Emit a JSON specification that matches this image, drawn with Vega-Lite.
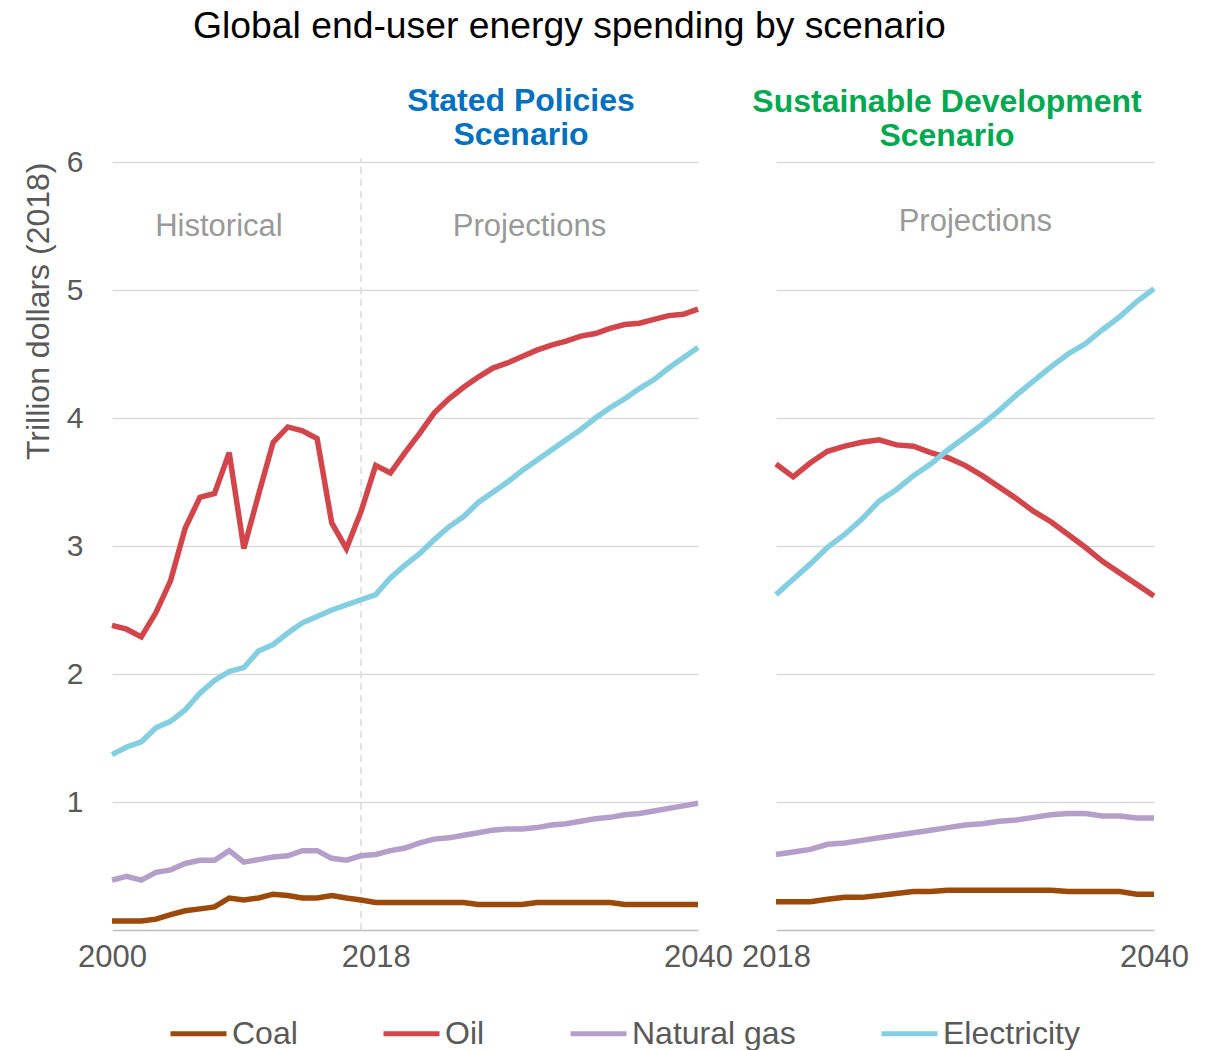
{
  "$schema": "https://vega.github.io/schema/vega-lite/v6.json",
  "padding": {"left": 22, "top": 7, "right": 10, "bottom": 0},
  "title": {"text": "Global end-user energy spending by scenario", "fontSize": 37.3, "fontWeight": "normal", "color": "#000000", "anchor": "start", "frame": "group", "dx": 81, "offset": 39},
  "datasets": {
    "energy": [
      {"scenario":"SP","fuel":"Oil","year":2000,"value":2.38},{"scenario":"SP","fuel":"Oil","year":2001,"value":2.35},{"scenario":"SP","fuel":"Oil","year":2002,"value":2.29},{"scenario":"SP","fuel":"Oil","year":2003,"value":2.48},{"scenario":"SP","fuel":"Oil","year":2004,"value":2.73},{"scenario":"SP","fuel":"Oil","year":2005,"value":3.14},{"scenario":"SP","fuel":"Oil","year":2006,"value":3.38},{"scenario":"SP","fuel":"Oil","year":2007,"value":3.41},{"scenario":"SP","fuel":"Oil","year":2008,"value":3.73},{"scenario":"SP","fuel":"Oil","year":2009,"value":2.98},
      {"scenario":"SP","fuel":"Oil","year":2010,"value":3.40},{"scenario":"SP","fuel":"Oil","year":2011,"value":3.81},{"scenario":"SP","fuel":"Oil","year":2012,"value":3.93},{"scenario":"SP","fuel":"Oil","year":2013,"value":3.90},{"scenario":"SP","fuel":"Oil","year":2014,"value":3.84},{"scenario":"SP","fuel":"Oil","year":2015,"value":3.18},{"scenario":"SP","fuel":"Oil","year":2016,"value":2.98},{"scenario":"SP","fuel":"Oil","year":2017,"value":3.27},{"scenario":"SP","fuel":"Oil","year":2018,"value":3.63},{"scenario":"SP","fuel":"Oil","year":2019,"value":3.57},
      {"scenario":"SP","fuel":"Oil","year":2020,"value":3.73},{"scenario":"SP","fuel":"Oil","year":2021,"value":3.88},{"scenario":"SP","fuel":"Oil","year":2022,"value":4.04},{"scenario":"SP","fuel":"Oil","year":2023,"value":4.15},{"scenario":"SP","fuel":"Oil","year":2024,"value":4.24},{"scenario":"SP","fuel":"Oil","year":2025,"value":4.32},{"scenario":"SP","fuel":"Oil","year":2026,"value":4.39},{"scenario":"SP","fuel":"Oil","year":2027,"value":4.43},{"scenario":"SP","fuel":"Oil","year":2028,"value":4.48},{"scenario":"SP","fuel":"Oil","year":2029,"value":4.53},
      {"scenario":"SP","fuel":"Oil","year":2030,"value":4.57},{"scenario":"SP","fuel":"Oil","year":2031,"value":4.60},{"scenario":"SP","fuel":"Oil","year":2032,"value":4.64},{"scenario":"SP","fuel":"Oil","year":2033,"value":4.66},{"scenario":"SP","fuel":"Oil","year":2034,"value":4.70},{"scenario":"SP","fuel":"Oil","year":2035,"value":4.73},{"scenario":"SP","fuel":"Oil","year":2036,"value":4.74},{"scenario":"SP","fuel":"Oil","year":2037,"value":4.77},{"scenario":"SP","fuel":"Oil","year":2038,"value":4.80},{"scenario":"SP","fuel":"Oil","year":2039,"value":4.81},{"scenario":"SP","fuel":"Oil","year":2040,"value":4.85},

      {"scenario":"SP","fuel":"Electricity","year":2000,"value":1.37},{"scenario":"SP","fuel":"Electricity","year":2001,"value":1.43},{"scenario":"SP","fuel":"Electricity","year":2002,"value":1.47},{"scenario":"SP","fuel":"Electricity","year":2003,"value":1.58},{"scenario":"SP","fuel":"Electricity","year":2004,"value":1.63},{"scenario":"SP","fuel":"Electricity","year":2005,"value":1.72},{"scenario":"SP","fuel":"Electricity","year":2006,"value":1.85},{"scenario":"SP","fuel":"Electricity","year":2007,"value":1.95},{"scenario":"SP","fuel":"Electricity","year":2008,"value":2.02},{"scenario":"SP","fuel":"Electricity","year":2009,"value":2.05},
      {"scenario":"SP","fuel":"Electricity","year":2010,"value":2.18},{"scenario":"SP","fuel":"Electricity","year":2011,"value":2.23},{"scenario":"SP","fuel":"Electricity","year":2012,"value":2.32},{"scenario":"SP","fuel":"Electricity","year":2013,"value":2.40},{"scenario":"SP","fuel":"Electricity","year":2014,"value":2.45},{"scenario":"SP","fuel":"Electricity","year":2015,"value":2.50},{"scenario":"SP","fuel":"Electricity","year":2016,"value":2.54},{"scenario":"SP","fuel":"Electricity","year":2017,"value":2.58},{"scenario":"SP","fuel":"Electricity","year":2018,"value":2.62},{"scenario":"SP","fuel":"Electricity","year":2019,"value":2.75},
      {"scenario":"SP","fuel":"Electricity","year":2020,"value":2.85},{"scenario":"SP","fuel":"Electricity","year":2021,"value":2.94},{"scenario":"SP","fuel":"Electricity","year":2022,"value":3.05},{"scenario":"SP","fuel":"Electricity","year":2023,"value":3.15},{"scenario":"SP","fuel":"Electricity","year":2024,"value":3.23},{"scenario":"SP","fuel":"Electricity","year":2025,"value":3.34},{"scenario":"SP","fuel":"Electricity","year":2026,"value":3.42},{"scenario":"SP","fuel":"Electricity","year":2027,"value":3.50},{"scenario":"SP","fuel":"Electricity","year":2028,"value":3.59},{"scenario":"SP","fuel":"Electricity","year":2029,"value":3.67},
      {"scenario":"SP","fuel":"Electricity","year":2030,"value":3.75},{"scenario":"SP","fuel":"Electricity","year":2031,"value":3.83},{"scenario":"SP","fuel":"Electricity","year":2032,"value":3.91},{"scenario":"SP","fuel":"Electricity","year":2033,"value":4.00},{"scenario":"SP","fuel":"Electricity","year":2034,"value":4.08},{"scenario":"SP","fuel":"Electricity","year":2035,"value":4.15},{"scenario":"SP","fuel":"Electricity","year":2036,"value":4.23},{"scenario":"SP","fuel":"Electricity","year":2037,"value":4.30},{"scenario":"SP","fuel":"Electricity","year":2038,"value":4.39},{"scenario":"SP","fuel":"Electricity","year":2039,"value":4.47},{"scenario":"SP","fuel":"Electricity","year":2040,"value":4.55},

      {"scenario":"SP","fuel":"Natural gas","year":2000,"value":0.39},{"scenario":"SP","fuel":"Natural gas","year":2001,"value":0.42},{"scenario":"SP","fuel":"Natural gas","year":2002,"value":0.39},{"scenario":"SP","fuel":"Natural gas","year":2003,"value":0.45},{"scenario":"SP","fuel":"Natural gas","year":2004,"value":0.47},{"scenario":"SP","fuel":"Natural gas","year":2005,"value":0.52},{"scenario":"SP","fuel":"Natural gas","year":2006,"value":0.545},{"scenario":"SP","fuel":"Natural gas","year":2007,"value":0.545},{"scenario":"SP","fuel":"Natural gas","year":2008,"value":0.62},{"scenario":"SP","fuel":"Natural gas","year":2009,"value":0.53},
      {"scenario":"SP","fuel":"Natural gas","year":2010,"value":0.55},{"scenario":"SP","fuel":"Natural gas","year":2011,"value":0.57},{"scenario":"SP","fuel":"Natural gas","year":2012,"value":0.58},{"scenario":"SP","fuel":"Natural gas","year":2013,"value":0.62},{"scenario":"SP","fuel":"Natural gas","year":2014,"value":0.62},{"scenario":"SP","fuel":"Natural gas","year":2015,"value":0.56},{"scenario":"SP","fuel":"Natural gas","year":2016,"value":0.545},{"scenario":"SP","fuel":"Natural gas","year":2017,"value":0.58},{"scenario":"SP","fuel":"Natural gas","year":2018,"value":0.59},{"scenario":"SP","fuel":"Natural gas","year":2019,"value":0.62},
      {"scenario":"SP","fuel":"Natural gas","year":2020,"value":0.64},{"scenario":"SP","fuel":"Natural gas","year":2021,"value":0.68},{"scenario":"SP","fuel":"Natural gas","year":2022,"value":0.71},{"scenario":"SP","fuel":"Natural gas","year":2023,"value":0.72},{"scenario":"SP","fuel":"Natural gas","year":2024,"value":0.74},{"scenario":"SP","fuel":"Natural gas","year":2025,"value":0.76},{"scenario":"SP","fuel":"Natural gas","year":2026,"value":0.78},{"scenario":"SP","fuel":"Natural gas","year":2027,"value":0.79},{"scenario":"SP","fuel":"Natural gas","year":2028,"value":0.79},{"scenario":"SP","fuel":"Natural gas","year":2029,"value":0.80},
      {"scenario":"SP","fuel":"Natural gas","year":2030,"value":0.82},{"scenario":"SP","fuel":"Natural gas","year":2031,"value":0.83},{"scenario":"SP","fuel":"Natural gas","year":2032,"value":0.85},{"scenario":"SP","fuel":"Natural gas","year":2033,"value":0.87},{"scenario":"SP","fuel":"Natural gas","year":2034,"value":0.88},{"scenario":"SP","fuel":"Natural gas","year":2035,"value":0.90},{"scenario":"SP","fuel":"Natural gas","year":2036,"value":0.91},{"scenario":"SP","fuel":"Natural gas","year":2037,"value":0.93},{"scenario":"SP","fuel":"Natural gas","year":2038,"value":0.95},{"scenario":"SP","fuel":"Natural gas","year":2039,"value":0.97},{"scenario":"SP","fuel":"Natural gas","year":2040,"value":0.99},

      {"scenario":"SP","fuel":"Coal","year":2000,"value":0.07},{"scenario":"SP","fuel":"Coal","year":2001,"value":0.07},{"scenario":"SP","fuel":"Coal","year":2002,"value":0.07},{"scenario":"SP","fuel":"Coal","year":2003,"value":0.085},{"scenario":"SP","fuel":"Coal","year":2004,"value":0.12},{"scenario":"SP","fuel":"Coal","year":2005,"value":0.15},{"scenario":"SP","fuel":"Coal","year":2006,"value":0.165},{"scenario":"SP","fuel":"Coal","year":2007,"value":0.18},{"scenario":"SP","fuel":"Coal","year":2008,"value":0.25},{"scenario":"SP","fuel":"Coal","year":2009,"value":0.235},
      {"scenario":"SP","fuel":"Coal","year":2010,"value":0.25},{"scenario":"SP","fuel":"Coal","year":2011,"value":0.28},{"scenario":"SP","fuel":"Coal","year":2012,"value":0.27},{"scenario":"SP","fuel":"Coal","year":2013,"value":0.25},{"scenario":"SP","fuel":"Coal","year":2014,"value":0.25},{"scenario":"SP","fuel":"Coal","year":2015,"value":0.27},{"scenario":"SP","fuel":"Coal","year":2016,"value":0.25},{"scenario":"SP","fuel":"Coal","year":2017,"value":0.235},{"scenario":"SP","fuel":"Coal","year":2018,"value":0.215},{"scenario":"SP","fuel":"Coal","year":2019,"value":0.215},
      {"scenario":"SP","fuel":"Coal","year":2020,"value":0.215},{"scenario":"SP","fuel":"Coal","year":2021,"value":0.215},{"scenario":"SP","fuel":"Coal","year":2022,"value":0.215},{"scenario":"SP","fuel":"Coal","year":2023,"value":0.215},{"scenario":"SP","fuel":"Coal","year":2024,"value":0.215},{"scenario":"SP","fuel":"Coal","year":2025,"value":0.20},{"scenario":"SP","fuel":"Coal","year":2026,"value":0.20},{"scenario":"SP","fuel":"Coal","year":2027,"value":0.20},{"scenario":"SP","fuel":"Coal","year":2028,"value":0.20},{"scenario":"SP","fuel":"Coal","year":2029,"value":0.215},
      {"scenario":"SP","fuel":"Coal","year":2030,"value":0.215},{"scenario":"SP","fuel":"Coal","year":2031,"value":0.215},{"scenario":"SP","fuel":"Coal","year":2032,"value":0.215},{"scenario":"SP","fuel":"Coal","year":2033,"value":0.215},{"scenario":"SP","fuel":"Coal","year":2034,"value":0.215},{"scenario":"SP","fuel":"Coal","year":2035,"value":0.20},{"scenario":"SP","fuel":"Coal","year":2036,"value":0.20},{"scenario":"SP","fuel":"Coal","year":2037,"value":0.20},{"scenario":"SP","fuel":"Coal","year":2038,"value":0.20},{"scenario":"SP","fuel":"Coal","year":2039,"value":0.20},{"scenario":"SP","fuel":"Coal","year":2040,"value":0.20},

      {"scenario":"SDS","fuel":"Oil","year":2018,"value":3.64},{"scenario":"SDS","fuel":"Oil","year":2019,"value":3.54},{"scenario":"SDS","fuel":"Oil","year":2020,"value":3.65},{"scenario":"SDS","fuel":"Oil","year":2021,"value":3.74},{"scenario":"SDS","fuel":"Oil","year":2022,"value":3.78},{"scenario":"SDS","fuel":"Oil","year":2023,"value":3.81},{"scenario":"SDS","fuel":"Oil","year":2024,"value":3.83},{"scenario":"SDS","fuel":"Oil","year":2025,"value":3.79},{"scenario":"SDS","fuel":"Oil","year":2026,"value":3.78},{"scenario":"SDS","fuel":"Oil","year":2027,"value":3.73},{"scenario":"SDS","fuel":"Oil","year":2028,"value":3.69},{"scenario":"SDS","fuel":"Oil","year":2029,"value":3.63},
      {"scenario":"SDS","fuel":"Oil","year":2030,"value":3.55},{"scenario":"SDS","fuel":"Oil","year":2031,"value":3.46},{"scenario":"SDS","fuel":"Oil","year":2032,"value":3.37},{"scenario":"SDS","fuel":"Oil","year":2033,"value":3.27},{"scenario":"SDS","fuel":"Oil","year":2034,"value":3.19},{"scenario":"SDS","fuel":"Oil","year":2035,"value":3.09},{"scenario":"SDS","fuel":"Oil","year":2036,"value":2.99},{"scenario":"SDS","fuel":"Oil","year":2037,"value":2.88},{"scenario":"SDS","fuel":"Oil","year":2038,"value":2.79},{"scenario":"SDS","fuel":"Oil","year":2039,"value":2.70},{"scenario":"SDS","fuel":"Oil","year":2040,"value":2.61},

      {"scenario":"SDS","fuel":"Electricity","year":2018,"value":2.62},{"scenario":"SDS","fuel":"Electricity","year":2019,"value":2.74},{"scenario":"SDS","fuel":"Electricity","year":2020,"value":2.86},{"scenario":"SDS","fuel":"Electricity","year":2021,"value":2.99},{"scenario":"SDS","fuel":"Electricity","year":2022,"value":3.09},{"scenario":"SDS","fuel":"Electricity","year":2023,"value":3.21},{"scenario":"SDS","fuel":"Electricity","year":2024,"value":3.35},{"scenario":"SDS","fuel":"Electricity","year":2025,"value":3.44},{"scenario":"SDS","fuel":"Electricity","year":2026,"value":3.55},{"scenario":"SDS","fuel":"Electricity","year":2027,"value":3.64},{"scenario":"SDS","fuel":"Electricity","year":2028,"value":3.75},{"scenario":"SDS","fuel":"Electricity","year":2029,"value":3.85},
      {"scenario":"SDS","fuel":"Electricity","year":2030,"value":3.95},{"scenario":"SDS","fuel":"Electricity","year":2031,"value":4.06},{"scenario":"SDS","fuel":"Electricity","year":2032,"value":4.18},{"scenario":"SDS","fuel":"Electricity","year":2033,"value":4.29},{"scenario":"SDS","fuel":"Electricity","year":2034,"value":4.40},{"scenario":"SDS","fuel":"Electricity","year":2035,"value":4.50},{"scenario":"SDS","fuel":"Electricity","year":2036,"value":4.58},{"scenario":"SDS","fuel":"Electricity","year":2037,"value":4.69},{"scenario":"SDS","fuel":"Electricity","year":2038,"value":4.79},{"scenario":"SDS","fuel":"Electricity","year":2039,"value":4.91},{"scenario":"SDS","fuel":"Electricity","year":2040,"value":5.01},

      {"scenario":"SDS","fuel":"Natural gas","year":2018,"value":0.59},{"scenario":"SDS","fuel":"Natural gas","year":2019,"value":0.61},{"scenario":"SDS","fuel":"Natural gas","year":2020,"value":0.63},{"scenario":"SDS","fuel":"Natural gas","year":2021,"value":0.67},{"scenario":"SDS","fuel":"Natural gas","year":2022,"value":0.68},{"scenario":"SDS","fuel":"Natural gas","year":2023,"value":0.70},{"scenario":"SDS","fuel":"Natural gas","year":2024,"value":0.72},{"scenario":"SDS","fuel":"Natural gas","year":2025,"value":0.74},{"scenario":"SDS","fuel":"Natural gas","year":2026,"value":0.76},{"scenario":"SDS","fuel":"Natural gas","year":2027,"value":0.78},{"scenario":"SDS","fuel":"Natural gas","year":2028,"value":0.80},{"scenario":"SDS","fuel":"Natural gas","year":2029,"value":0.82},
      {"scenario":"SDS","fuel":"Natural gas","year":2030,"value":0.83},{"scenario":"SDS","fuel":"Natural gas","year":2031,"value":0.85},{"scenario":"SDS","fuel":"Natural gas","year":2032,"value":0.86},{"scenario":"SDS","fuel":"Natural gas","year":2033,"value":0.88},{"scenario":"SDS","fuel":"Natural gas","year":2034,"value":0.90},{"scenario":"SDS","fuel":"Natural gas","year":2035,"value":0.91},{"scenario":"SDS","fuel":"Natural gas","year":2036,"value":0.91},{"scenario":"SDS","fuel":"Natural gas","year":2037,"value":0.89},{"scenario":"SDS","fuel":"Natural gas","year":2038,"value":0.89},{"scenario":"SDS","fuel":"Natural gas","year":2039,"value":0.875},{"scenario":"SDS","fuel":"Natural gas","year":2040,"value":0.875},

      {"scenario":"SDS","fuel":"Coal","year":2018,"value":0.22},{"scenario":"SDS","fuel":"Coal","year":2019,"value":0.22},{"scenario":"SDS","fuel":"Coal","year":2020,"value":0.22},{"scenario":"SDS","fuel":"Coal","year":2021,"value":0.24},{"scenario":"SDS","fuel":"Coal","year":2022,"value":0.255},{"scenario":"SDS","fuel":"Coal","year":2023,"value":0.255},{"scenario":"SDS","fuel":"Coal","year":2024,"value":0.27},{"scenario":"SDS","fuel":"Coal","year":2025,"value":0.285},{"scenario":"SDS","fuel":"Coal","year":2026,"value":0.30},{"scenario":"SDS","fuel":"Coal","year":2027,"value":0.30},{"scenario":"SDS","fuel":"Coal","year":2028,"value":0.31},{"scenario":"SDS","fuel":"Coal","year":2029,"value":0.31},
      {"scenario":"SDS","fuel":"Coal","year":2030,"value":0.31},{"scenario":"SDS","fuel":"Coal","year":2031,"value":0.31},{"scenario":"SDS","fuel":"Coal","year":2032,"value":0.31},{"scenario":"SDS","fuel":"Coal","year":2033,"value":0.31},{"scenario":"SDS","fuel":"Coal","year":2034,"value":0.31},{"scenario":"SDS","fuel":"Coal","year":2035,"value":0.30},{"scenario":"SDS","fuel":"Coal","year":2036,"value":0.30},{"scenario":"SDS","fuel":"Coal","year":2037,"value":0.30},{"scenario":"SDS","fuel":"Coal","year":2038,"value":0.30},{"scenario":"SDS","fuel":"Coal","year":2039,"value":0.28},{"scenario":"SDS","fuel":"Coal","year":2040,"value":0.28}
    ]
  },
  "spacing": 78,
  "bounds": "flush",
  "resolve": {"scale": {"x": "independent", "y": "independent", "color": "shared"}},
  "hconcat": [
    {
      "width": 586,
      "height": 768,
      "title": {"text": ["Stated Policies", "Scenario"], "color": "#0070C0", "fontSize": 32, "fontWeight": "bold", "anchor": "middle", "dx": 116, "offset": -5, "lineHeight": 34},
      "layer": [
        {
          "data": {"values": [{}]},
          "mark": {"type": "rule", "color": "#d9d9d9", "strokeWidth": 1.5, "strokeDash": [7, 5]},
          "encoding": {"x": {"datum": 2017, "type": "quantitative"}, "y": {"datum": 0, "type": "quantitative"}, "y2": {"datum": 6.03}}
        },
        {
          "data": {"name": "energy"},
          "transform": [{"filter": "datum.scenario === 'SP'"}],
          "mark": {"type": "line", "strokeWidth": 5.5},
          "encoding": {
            "x": {"field": "year", "type": "quantitative", "scale": {"domain": [2000, 2040], "nice": false, "zero": false},
                  "axis": {"values": [2000, 2018, 2040], "format": "d", "labelFlush": false, "labelOverlap": false, "grid": false, "ticks": false, "domainColor": "#bfbfbf", "domainWidth": 1.5, "labelFontSize": 31, "labelColor": "#595959", "labelPadding": 12, "title": null}},
            "y": {"field": "value", "type": "quantitative", "scale": {"domain": [0, 6], "nice": false},
                  "axis": {"values": [1, 2, 3, 4, 5, 6], "format": "d", "grid": true, "gridColor": "#d9d9d9", "gridWidth": 1.5, "domain": false, "ticks": false, "labelFontSize": 30, "labelColor": "#595959", "labelPadding": 29, "title": "Trillion dollars (2018)", "titleFontSize": 32, "titleFontWeight": "normal", "titleColor": "#595959", "titleAnchor": "end", "titlePadding": 11}},
            "color": {"field": "fuel", "type": "nominal", "scale": {"domain": ["Coal", "Oil", "Natural gas", "Electricity"], "range": ["#9C4A0B", "#D2464B", "#B49FCB", "#83CFE1"]}, "legend": {"title": null}},
            "detail": {"field": "fuel"}
          }
        },
        {
          "data": {"values": [{}]},
          "mark": {"type": "text", "text": "Historical", "fontSize": 31, "color": "#999999"},
          "encoding": {"x": {"datum": 2007.3, "type": "quantitative"}, "y": {"datum": 5.49, "type": "quantitative"}}
        },
        {
          "data": {"values": [{}]},
          "mark": {"type": "text", "text": "Projections", "fontSize": 31, "color": "#999999"},
          "encoding": {"x": {"datum": 2028.5, "type": "quantitative"}, "y": {"datum": 5.49, "type": "quantitative"}}
        }
      ]
    },
    {
      "width": 378,
      "height": 768,
      "title": {"text": ["Sustainable Development", "Scenario"], "color": "#00A94F", "fontSize": 32, "fontWeight": "bold", "anchor": "middle", "dx": -18, "offset": 9, "lineHeight": 34},
      "layer": [
        {
          "data": {"name": "energy"},
          "transform": [{"filter": "datum.scenario === 'SDS'"}],
          "mark": {"type": "line", "strokeWidth": 5.5},
          "encoding": {
            "x": {"field": "year", "type": "quantitative", "scale": {"domain": [2018, 2040], "nice": false, "zero": false},
                  "axis": {"values": [2018, 2040], "format": "d", "labelFlush": false, "labelOverlap": false, "grid": false, "ticks": false, "domainColor": "#bfbfbf", "domainWidth": 1.5, "labelFontSize": 31, "labelColor": "#595959", "labelPadding": 12, "title": null}},
            "y": {"field": "value", "type": "quantitative", "scale": {"domain": [0, 6], "nice": false},
                  "axis": {"values": [1, 2, 3, 4, 5, 6], "grid": true, "gridColor": "#d9d9d9", "gridWidth": 1.5, "domain": false, "ticks": false, "labels": false, "title": null}},
            "color": {"field": "fuel", "type": "nominal", "scale": {"domain": ["Coal", "Oil", "Natural gas", "Electricity"], "range": ["#9C4A0B", "#D2464B", "#B49FCB", "#83CFE1"]}, "legend": {"title": null}},
            "detail": {"field": "fuel"}
          }
        },
        {
          "data": {"values": [{}]},
          "mark": {"type": "text", "text": "Projections", "fontSize": 31, "color": "#999999"},
          "encoding": {"x": {"datum": 2029.6, "type": "quantitative"}, "y": {"datum": 5.53, "type": "quantitative"}}
        }
      ]
    }
  ],
  "config": {
    "font": "Liberation Sans",
    "view": {"stroke": null},
    "title": {"font": "Liberation Sans"},
    "legend": {"orient": "none", "legendX": 56, "legendY": 841, "direction": "horizontal", "symbolType": "stroke", "symbolSize": 3136, "symbolStrokeWidth": 5, "labelFontSize": 32, "labelColor": "#595959", "labelOffset": 3, "columnPadding": 75, "labelLimit": 400}
  }
}
